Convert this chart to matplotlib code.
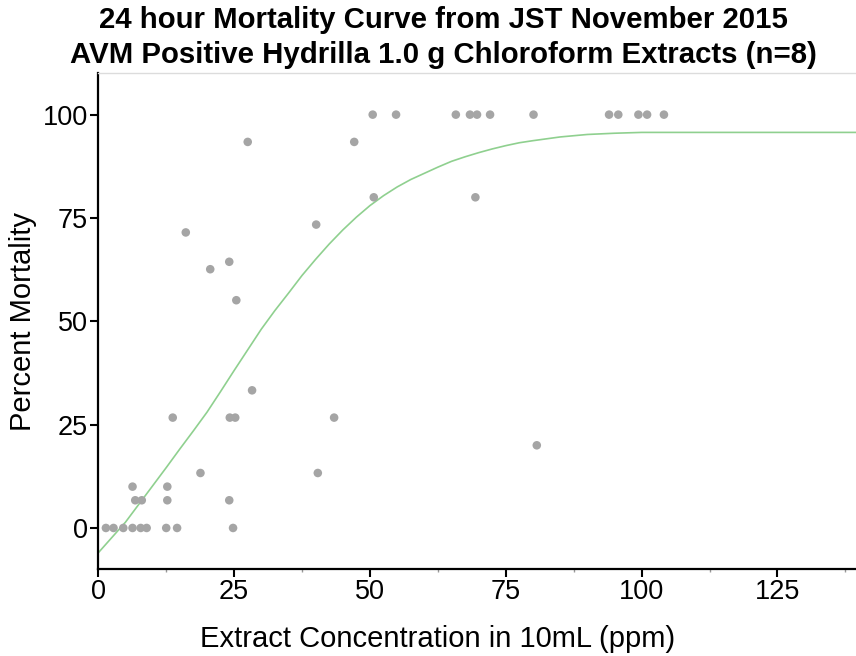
import matplotlib
matplotlib.use("Agg")
import matplotlib.pyplot as plt
from matplotlib.ticker import MultipleLocator

plt.rcParams['font.family'] = ['Liberation Sans', 'DejaVu Sans']

# observed mortality (ppm, percent)
conc = [1.4, 2.8, 4.6, 6.3, 7.8, 8.9, 12.5, 14.5, 24.8,
        6.8, 8.0, 12.7, 24.1,
        6.3, 12.7,
        18.8, 40.4,
        80.7,
        13.7, 24.2, 25.2, 43.4,
        28.3, 25.4, 20.6, 24.1, 16.1, 40.1,
        50.7, 69.4,
        27.5, 47.1,
        50.5, 54.8, 65.8, 68.4, 69.7, 72.1, 80.1, 94.0, 95.7, 99.4, 101.0, 104.1]
mortality = [0, 0, 0, 0, 0, 0, 0, 0, 0,
             6.7, 6.7, 6.7, 6.7,
             10, 10,
             13.3, 13.3,
             20,
             26.7, 26.7, 26.7, 26.7,
             33.3, 55.1, 62.6, 64.4, 71.5, 73.4,
             80, 80,
             93.4, 93.4,
             100, 100, 100, 100, 100, 100, 100, 100, 100, 100, 100, 100]

# fitted curve
fit_x = [0, 2.5, 5, 7.5, 10, 12.5, 15, 17.5, 20, 22.5, 25, 27.5, 30, 32.5, 35,
         37.5, 40, 42.5, 45, 47.5, 50, 52.5, 55, 57.5, 60, 62.5, 65, 67.5, 70,
         72.5, 75, 77.5, 80, 85, 90, 95, 100, 110, 120, 130, 140]
fit_y = [-6.0, -2.3, 1.4, 5.8, 10.2, 14.6, 19.1, 23.5, 28.0, 33.0, 38.1, 43.1,
         48.1, 52.6, 56.8, 61.1, 65.0, 68.7, 72.1, 75.2, 78.0, 80.4, 82.5, 84.3,
         85.8, 87.3, 88.7, 89.8, 90.8, 91.7, 92.5, 93.2, 93.7, 94.6, 95.2, 95.5,
         95.7, 95.7, 95.7, 95.7, 95.7]

x_ticks = [0, 25, 50, 75, 100, 125]
y_ticks = [0, 25, 50, 75, 100]

W, H = 856, 656
fig = plt.figure(figsize=(W / 100, H / 100), dpi=100)
ax = fig.add_axes([98.3 / W, 1 - 569.3 / H, (859 - 98.3) / W, (569.3 - 73.3) / H])

ax.plot(fit_x, fit_y, color='#8fd08f', lw=1.2, zorder=2, clip_on=False)
ax.scatter(conc, mortality, s=38, color='#a5a5a5', edgecolors='none', zorder=3)

ax.set_xlim(0, 140)
ax.set_ylim(-10, 110)
ax.set_xticks(x_ticks)
ax.set_yticks(y_ticks)
ax.xaxis.set_minor_locator(MultipleLocator(12.5))

ax.spines['right'].set_visible(False)
ax.spines['top'].set_color('#dcdcdc')
ax.spines['top'].set_linewidth(1.0)
ax.spines['left'].set_linewidth(1.6)
ax.spines['bottom'].set_linewidth(1.6)

ax.tick_params(axis='both', which='major', direction='out', length=6, width=1.5,
               labelsize=19.5, color='black')
ax.tick_params(axis='y', pad=1.5)
ax.tick_params(axis='x', pad=1.0)
ax.tick_params(axis='x', which='minor', length=2.5, width=1, color='#999999')

ax.set_xlabel('Extract Concentration in 10mL (ppm)', fontsize=21, va='center')
ax.xaxis.set_label_coords(0.4466, -0.1405)
ax.set_ylabel('Percent Mortality', fontsize=21, va='center')
ax.yaxis.set_label_coords(-0.099, 0.5)

fig.text(443 / W, 1 - 28.3 / H, '24 hour Mortality Curve from JST November 2015',
         ha='center', va='baseline', fontsize=21.2, fontweight='bold')
fig.text(443 / W, 1 - 63.3 / H, 'AVM Positive Hydrilla 1.0 g Chloroform Extracts (n=8)',
         ha='center', va='baseline', fontsize=21.2, fontweight='bold')

fig.savefig('out.png', dpi=100)
